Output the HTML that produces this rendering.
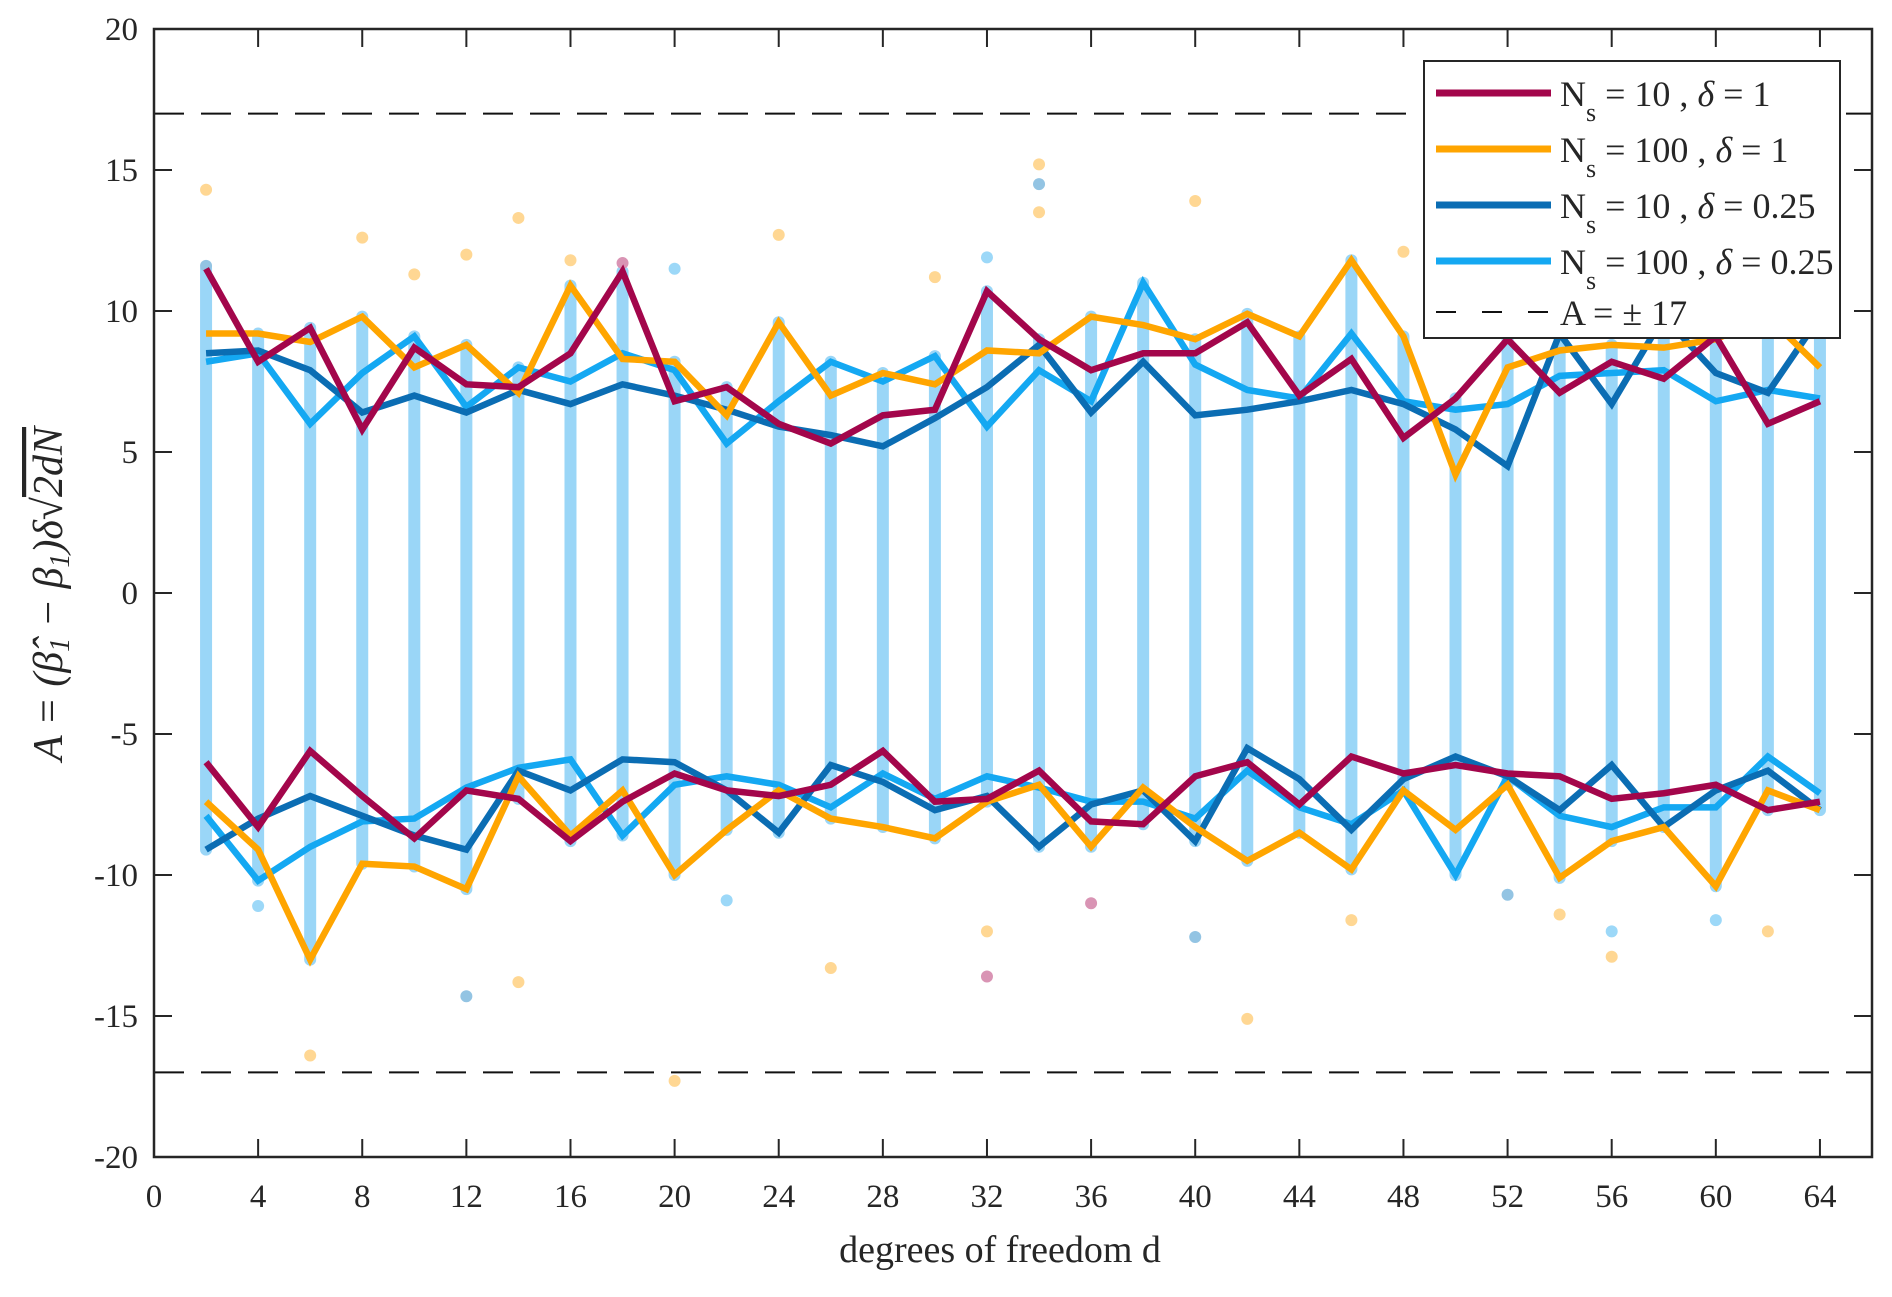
<!DOCTYPE html>
<html><head><meta charset="utf-8"><style>
html,body{margin:0;padding:0;background:#fff;}
svg text{font-family:"Liberation Serif",serif;fill:#262626;}
</style></head><body>
<svg id="chart" width="1892" height="1292" viewBox="0 0 1892 1292" xmlns="http://www.w3.org/2000/svg">
<rect width="1892" height="1292" fill="#fff"/>
<g id="cols"></g>
<g id="outl"></g>
<g id="lines"></g>
<g id="axes"></g>
<text x="1000" y="1262" font-size="38" text-anchor="middle">degrees of freedom d</text>
<text transform="translate(62,594) rotate(-90)" font-size="42" text-anchor="middle" font-style="italic">A = (<tspan>β̂</tspan><tspan font-size="28" dy="7">1</tspan><tspan dy="-7"> − β</tspan><tspan font-size="28" dy="7">1</tspan><tspan dy="-7">)δ√</tspan><tspan text-decoration="overline">2dN</tspan></text>
<g id="legend"></g>
</svg>
<script>
const dVals=[2,4,6,8,10,12,14,16,18,20,22,24,26,28,30,32,34,36,38,40,42,44,46,48,50,52,54,56,58,60,62,64];
const crimsonUp=[11.5,8.2,9.4,5.8,8.7,7.4,7.3,8.5,11.4,6.8,7.3,6.0,5.3,6.3,6.5,10.7,9.0,7.9,8.5,8.5,9.6,7.0,8.3,5.5,6.9,9.0,7.1,8.2,7.6,9.1,6.0,6.8];
const orangeUp=[9.2,9.2,8.9,9.8,8.0,8.8,7.1,10.9,8.3,8.2,6.3,9.6,7.0,7.8,7.4,8.6,8.5,9.8,9.5,9.0,9.9,9.1,11.8,9.1,4.2,8.0,8.6,8.8,8.7,9.0,9.8,8.0];
const darkUp=[8.5,8.6,7.9,6.4,7.0,6.4,7.2,6.7,7.4,7.0,6.5,5.9,5.6,5.2,6.2,7.3,8.8,6.4,8.2,6.3,6.5,6.8,7.2,6.7,5.8,4.5,9.2,6.7,9.8,7.8,7.1,9.8];
const lightUp=[8.2,8.5,6.0,7.8,9.1,6.6,8.0,7.5,8.5,7.9,5.3,6.8,8.2,7.5,8.4,5.9,7.9,6.8,11.0,8.1,7.2,6.9,9.2,6.8,6.5,6.7,7.7,7.8,7.9,6.8,7.2,6.9];
const crimsonLo=[-6.0,-8.3,-5.6,-7.2,-8.7,-7.0,-7.3,-8.8,-7.4,-6.4,-7.0,-7.2,-6.8,-5.6,-7.4,-7.3,-6.3,-8.1,-8.2,-6.5,-6.0,-7.5,-5.8,-6.4,-6.1,-6.4,-6.5,-7.3,-7.1,-6.8,-7.7,-7.4];
const orangeLo=[-7.4,-9.1,-13.0,-9.6,-9.7,-10.5,-6.5,-8.6,-7.0,-10.0,-8.4,-7.0,-8.0,-8.3,-8.7,-7.4,-6.8,-9.0,-6.9,-8.3,-9.5,-8.5,-9.8,-7.0,-8.4,-6.8,-10.1,-8.8,-8.3,-10.4,-7.0,-7.7];
const darkLo=[-9.1,-8.0,-7.2,-7.9,-8.6,-9.1,-6.3,-7.0,-5.9,-6.0,-7.0,-8.5,-6.1,-6.7,-7.7,-7.2,-9.0,-7.5,-7.0,-8.8,-5.5,-6.6,-8.4,-6.6,-5.8,-6.5,-7.7,-6.1,-8.3,-7.0,-6.3,-7.7];
const lightLo=[-7.9,-10.2,-9.0,-8.1,-8.0,-6.9,-6.2,-5.9,-8.6,-6.8,-6.5,-6.8,-7.6,-6.4,-7.3,-6.5,-6.9,-7.4,-7.4,-8.0,-6.3,-7.6,-8.2,-7.0,-10.0,-6.5,-7.9,-8.3,-7.6,-7.6,-5.8,-7.1];
const outD=[2,6,8,12,14,14,20,24,26,32,32,34,34,34,40,40,42,48,56,56,60,62,18,2,20,32,10,12,16,4,30,46,36,54,52,22];
const outV=[14.3,-16.4,12.6,-14.3,13.3,-13.8,-17.3,12.7,-13.3,-13.6,-12,15.2,14.5,13.5,13.9,-12.2,-15.1,12.1,-12.9,-12,-11.6,-12,11.7,11.6,11.5,11.9,11.3,12,11.8,-11.1,11.2,-11.6,-11,-11.4,-10.7,-10.9];
const outS=['o','o','o','d','o','o','o','o','o','c','o','o','d','o','o','d','o','o','o','l','l','o','c','d','l','l','o','o','o','l','o','o','c','o','d','l'];
const xTicks=[0,4,8,12,16,20,24,28,32,36,40,44,48,52,56,60,64];
const yTicks=[20,15,10,5,0,-5,-10,-15,-20];
const legendLabels=[["10","1"],["100","1"],["10","0.25"],["100","0.25"]];

const L=154,R=1872,T=29,B=1157,XMAX=66,YMIN=-20,YMAX=20;
const X=v=>L+(v/XMAX)*(R-L);
const Y=v=>T+(YMAX-v)/(YMAX-YMIN)*(B-T);
const NS="http://www.w3.org/2000/svg";
function mk(tag,attrs,parent){const e=document.createElementNS(NS,tag);for(const k in attrs)e.setAttribute(k,attrs[k]);parent.appendChild(e);return e;}
const colors={c:"#a3064b",o:"#ffa500",d:"#0b6db3",l:"#14a8f2"};
const dotCol={c:"#d994b4",o:"#ffd793",d:"#93c4e3",l:"#9cd8f8"};

const cols=document.getElementById('cols');
dVals.forEach((d,i)=>{
  const lo=Math.min(crimsonLo[i],orangeLo[i],darkLo[i],lightLo[i]);
  const hi=Math.max(crimsonUp[i],orangeUp[i],darkUp[i],lightUp[i]);
  const ln=mk('line',{x1:X(d),x2:X(d),y1:Y(hi),y2:Y(lo),stroke:"#9ad6f7","stroke-width":12,"stroke-linecap":"round"},cols);
  
  
});
const outl=document.getElementById('outl');
outD.forEach((d,i)=>{
  const c=mk('circle',{cx:X(d),cy:Y(outV[i]),r:6,fill:dotCol[outS[i]]},outl);
  
  
});

const lines=document.getElementById('lines');
const series=[["crimson-upper",crimsonUp,"c"],["crimson-lower",crimsonLo,"c"],["orange-upper",orangeUp,"o"],["orange-lower",orangeLo,"o"],["darkblue-upper",darkUp,"d"],["darkblue-lower",darkLo,"d"],["lightblue-upper",lightUp,"l"],["lightblue-lower",lightLo,"l"]];
const order=[6,7,4,5,2,3,0,1];
order.forEach(k=>{
  const s=series[k];
  const pts=dVals.map((d,i)=>X(d)+","+Y(s[1][i])).join(" ");
  const p=mk('polyline',{points:pts,fill:"none",stroke:colors[s[2]],"stroke-width":6.5,"stroke-linejoin":"miter"},lines);
  
  
});

const axes=document.getElementById('axes');
[17,-17].forEach(v=>{
  const l=mk('line',{x1:L,x2:R,y1:Y(v),y2:Y(v),stroke:"#111","stroke-width":2,"stroke-dasharray":"30,17"},axes);
  
  
});
const box=mk('rect',{x:L,y:T,width:R-L,height:B-T,fill:"none",stroke:"#262626","stroke-width":2.5},axes);


xTicks.forEach(t=>{
  mk('line',{x1:X(t),x2:X(t),y1:B,y2:B-18,stroke:"#262626","stroke-width":2},axes);
  mk('line',{x1:X(t),x2:X(t),y1:T,y2:T+18,stroke:"#262626","stroke-width":2},axes);
  const tx=mk('text',{x:X(t),y:B+50,"font-size":33,"text-anchor":"middle"},axes);
  tx.textContent=t;
  
  
});
yTicks.forEach(t=>{
  mk('line',{x1:L,x2:L+18,y1:Y(t),y2:Y(t),stroke:"#262626","stroke-width":2},axes);
  mk('line',{x1:R,x2:R-18,y1:Y(t),y2:Y(t),stroke:"#262626","stroke-width":2},axes);
  const tx=mk('text',{x:L-16,y:Y(t)+11,"font-size":33,"text-anchor":"end"},axes);
  tx.textContent=t;
  
  
});

const lg=document.getElementById('legend');
mk('rect',{x:1424,y:61,width:416,height:277,fill:"#fff",stroke:"#262626","stroke-width":2},lg);
const lc=["c","o","d","l"];
legendLabels.forEach((lab,i)=>{
  const y=93+i*56;
  const ln=mk('line',{x1:1436,x2:1551,y1:y,y2:y,stroke:colors[lc[i]],"stroke-width":7},lg);
  
  
  const t=mk('text',{x:1560,y:y+13,"font-size":36},lg);
  
  
  t.innerHTML='N<tspan font-size="26" dy="15">s</tspan><tspan dy="-15"> = '+lab[0]+' , </tspan><tspan font-style="italic">δ</tspan> = '+lab[1];
});
const dl=mk('line',{x1:1436,x2:1551,y1:312,y2:312,stroke:"#111","stroke-width":2,"stroke-dasharray":"20,26"},lg);


const tt=mk('text',{x:1560,y:325,"font-size":36},lg);
tt.textContent='A = ± 17';


</script>
</body></html>
